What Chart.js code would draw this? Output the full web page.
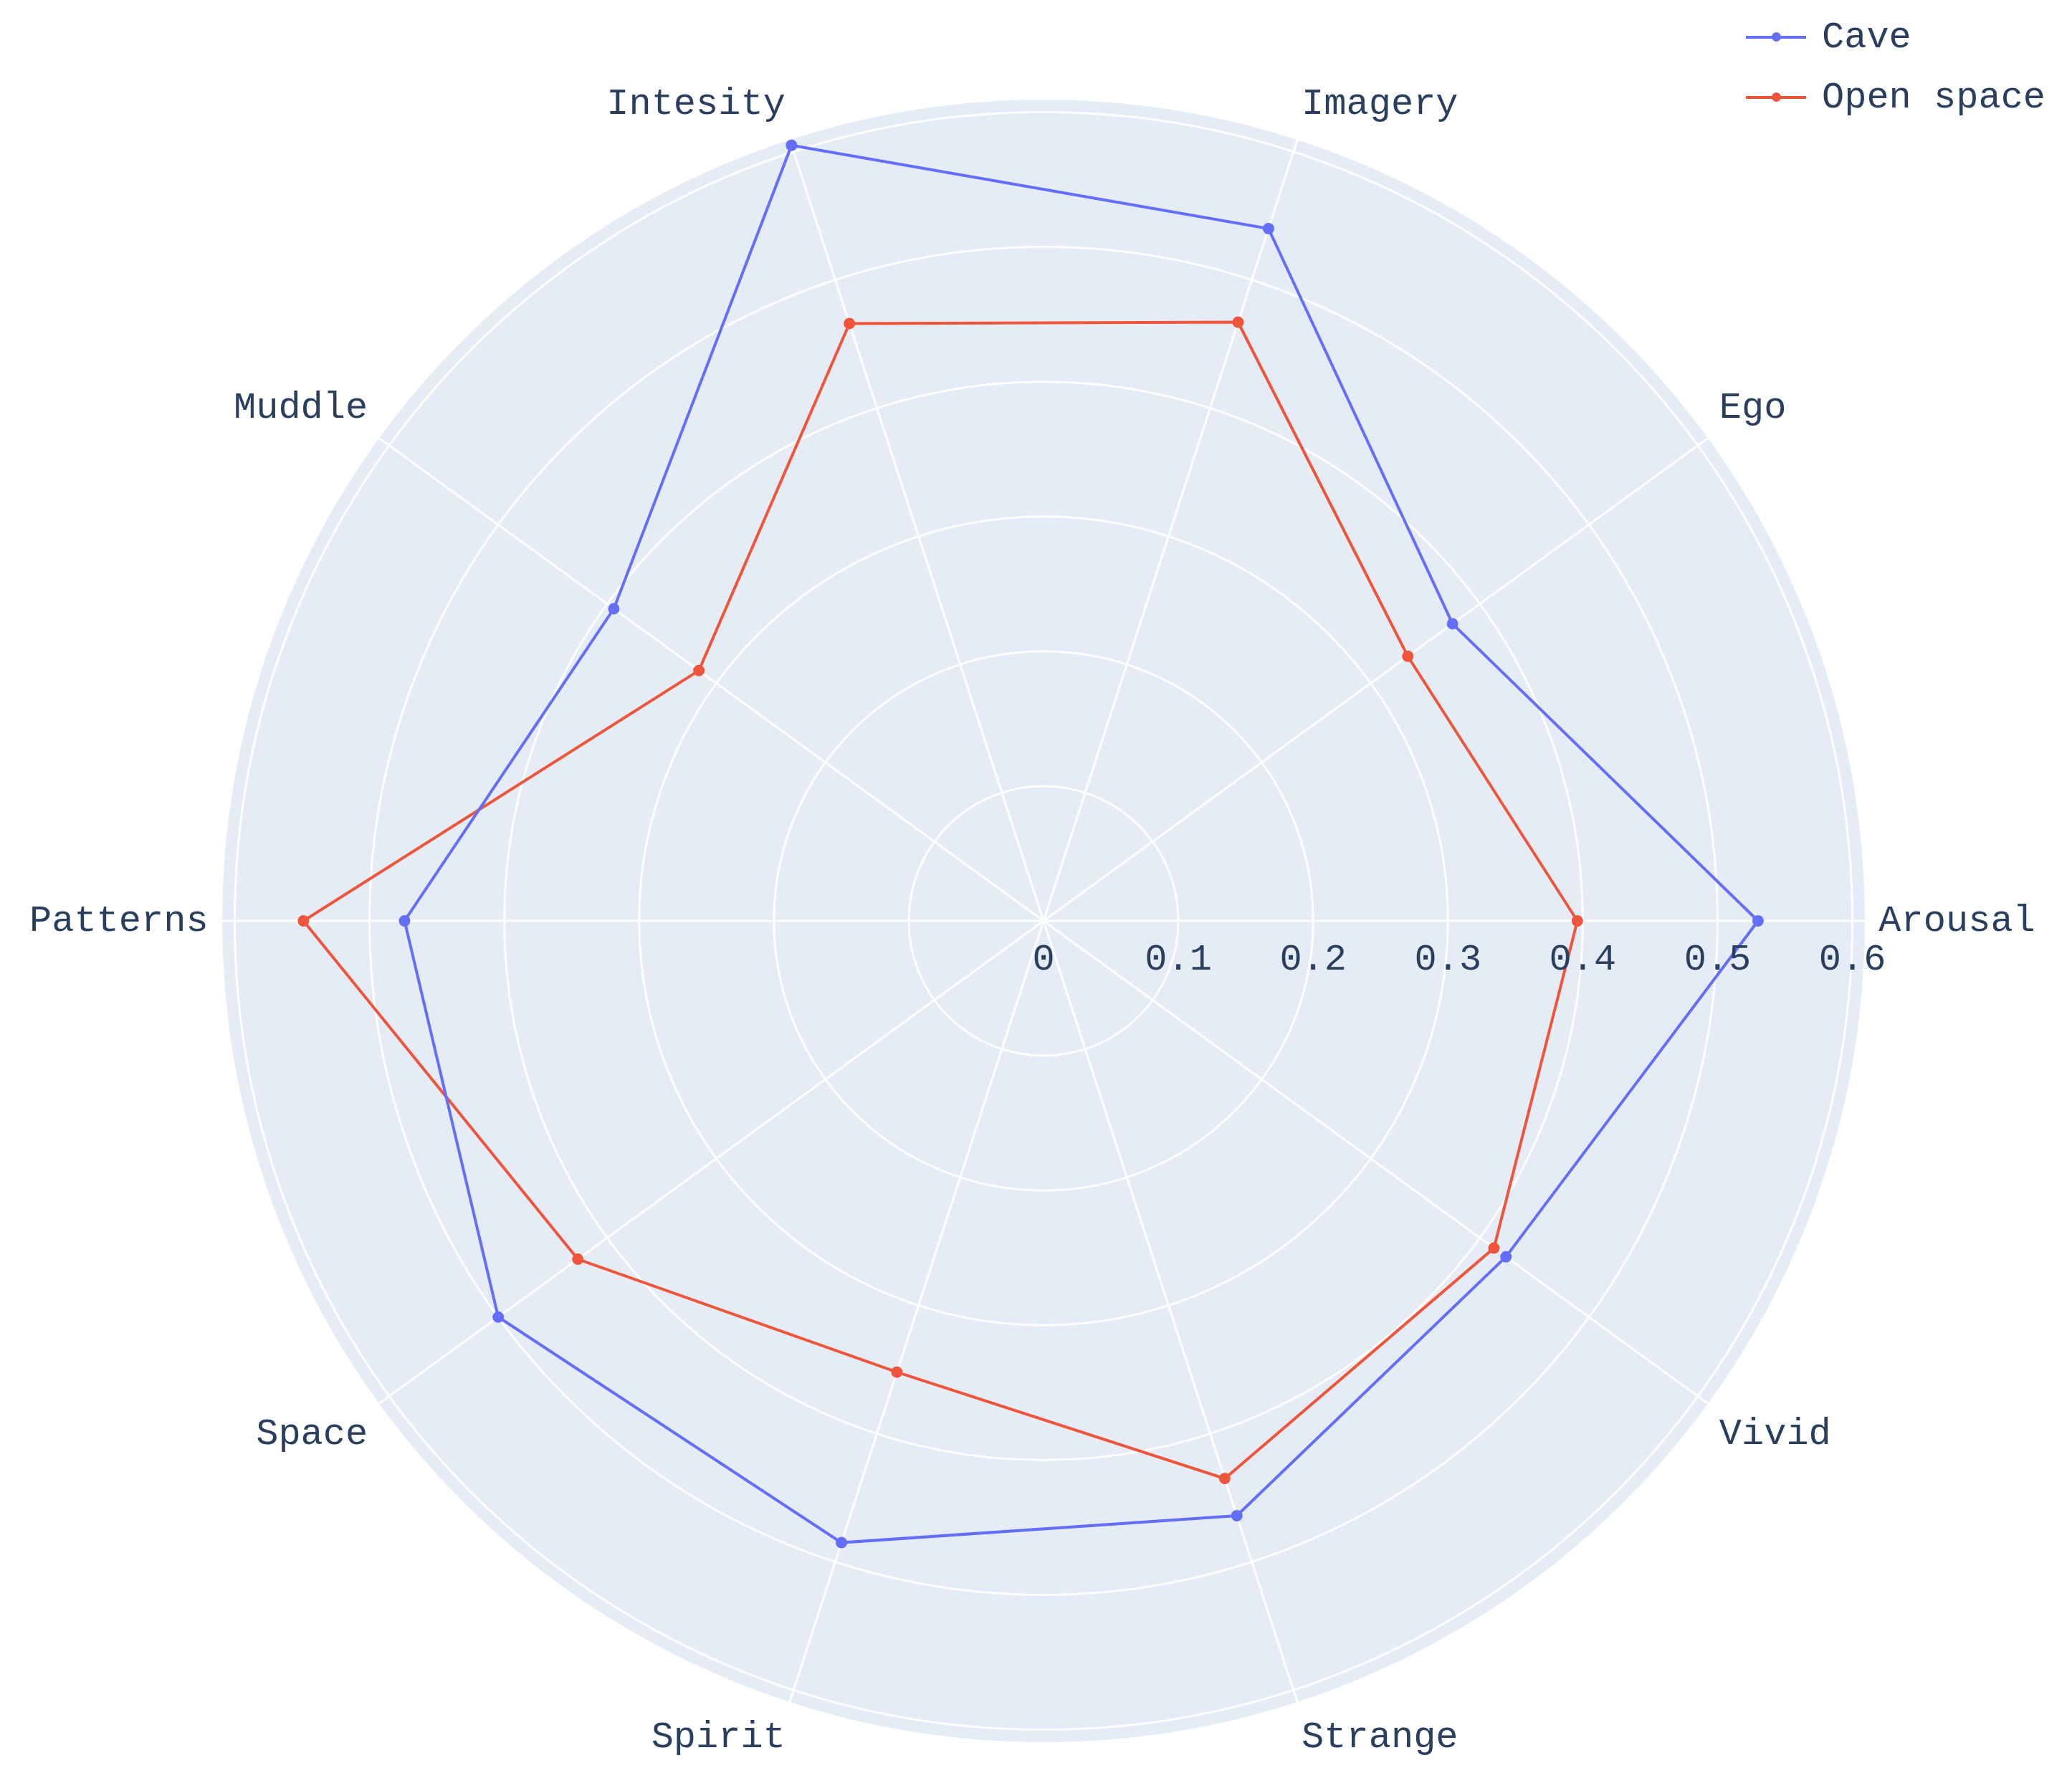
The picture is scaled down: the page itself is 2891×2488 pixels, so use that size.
<!DOCTYPE html>
<html>
<head>
<meta charset="utf-8">
<script src="https://cdn.jsdelivr.net/npm/chart.js@4/dist/chart.umd.min.js"></script>
<style>
  html, body { margin: 0; padding: 0; background: #fff; }
  #wrap { position: relative; width: 2891px; height: 2488px; }
  #legend { position: absolute; left: 2436px; top: 10px; font-family: "Liberation Mono", monospace; font-size: 52px; color: #2a3f5f; }
  .item { display: flex; align-items: center; height: 84px; }
  .swatch { position: relative; width: 84px; height: 4px; margin-right: 22px; }
  .swatch span { position: absolute; left: 36px; top: -5px; width: 13px; height: 13px; border-radius: 50%; }
</style>
</head>
<body>
<div id="wrap">
  <canvas id="radar" width="2891" height="2488"></canvas>
  <div id="legend"></div>
</div>
<script>
// categories in clockwise order starting at the right (Chart.js draws clockwise)
const categories = ['Arousal', 'Vivid', 'Strange', 'Spirit', 'Space', 'Patterns', 'Muddle', 'Intesity', 'Imagery', 'Ego'];
const caveValues = [0.53, 0.424, 0.464, 0.485, 0.50, 0.474, 0.394, 0.605, 0.54, 0.375];
const openValues = [0.396, 0.413, 0.435, 0.352, 0.427, 0.549, 0.316, 0.466, 0.467, 0.334];
const tickLabels = ['0', '0.1', '0.2', '0.3', '0.4', '0.5', '0.6'];
const tickValues = [0, 0.1, 0.2, 0.3, 0.4, 0.5, 0.6];

const FONT = '"Liberation Mono", "DejaVu Sans Mono", monospace';
const TEXT = '#2a3f5f';

// grey disk behind the grid, and the tick labels under the right axis
const polarBg = {
    id: 'polarBg',
    beforeDraw(chart) {
        const s = chart.scales.r;
        const ctx = chart.ctx;
        ctx.save();
        ctx.fillStyle = '#e5ecf6';
        ctx.beginPath();
        ctx.arc(s.xCenter, s.yCenter, s.drawingArea, 0, Math.PI * 2);
        ctx.fill();
        ctx.restore();
    },
    afterDatasetsDraw(chart) {
        const s = chart.scales.r;
        const ctx = chart.ctx;
        ctx.save();
        ctx.font = '52px ' + FONT;
        ctx.fillStyle = TEXT;
        ctx.textAlign = 'center';
        ctx.textBaseline = 'middle';
        tickValues.forEach((v, i) => {
            const d = s.getDistanceFromCenterForValue(v);
            ctx.fillText(tickLabels[i], s.xCenter + d, s.yCenter + 54);
        });
        ctx.restore();
    }
};

const series = [
    { label: 'Cave', data: caveValues, color: '#636efa' },
    { label: 'Open space', data: openValues, color: '#ef553b' },
];

new Chart(document.getElementById('radar'), {
    type: 'radar',
    data: {
        labels: categories,
        datasets: series.map(s => ({
            label: s.label,
            data: s.data,
            borderColor: s.color,
            backgroundColor: 'transparent',
            pointBackgroundColor: s.color,
            pointBorderColor: s.color,
            borderWidth: 4,
            pointRadius: 6,
            fill: false,
        })),
    },
    plugins: [polarBg],
    options: {
        responsive: false,
        animation: false,
        layout: { padding: { left: 28, right: 33, top: 112, bottom: 28 } },
        plugins: { legend: { display: false }, tooltip: { enabled: false } },
        scales: {
            r: {
                min: 0,
                max: 0.61,
                startAngle: 90,
                beginAtZero: true,
                ticks: { display: false, stepSize: 0.1 },
                grid: { circular: true, color: '#ffffff', lineWidth: 3 },
                angleLines: { color: '#ffffff', lineWidth: 3 },
                pointLabels: { font: { family: FONT, size: 52 }, color: TEXT, padding: 18 },
            },
        },
    },
});

const legend = document.getElementById('legend');
series.forEach(s => {
    const item = document.createElement('div');
    item.className = 'item';
    item.innerHTML = `<div class="swatch" style="background:${s.color}"><span style="background:${s.color}"></span></div>${s.label}`;
    legend.appendChild(item);
});
</script>
</body>
</html>
